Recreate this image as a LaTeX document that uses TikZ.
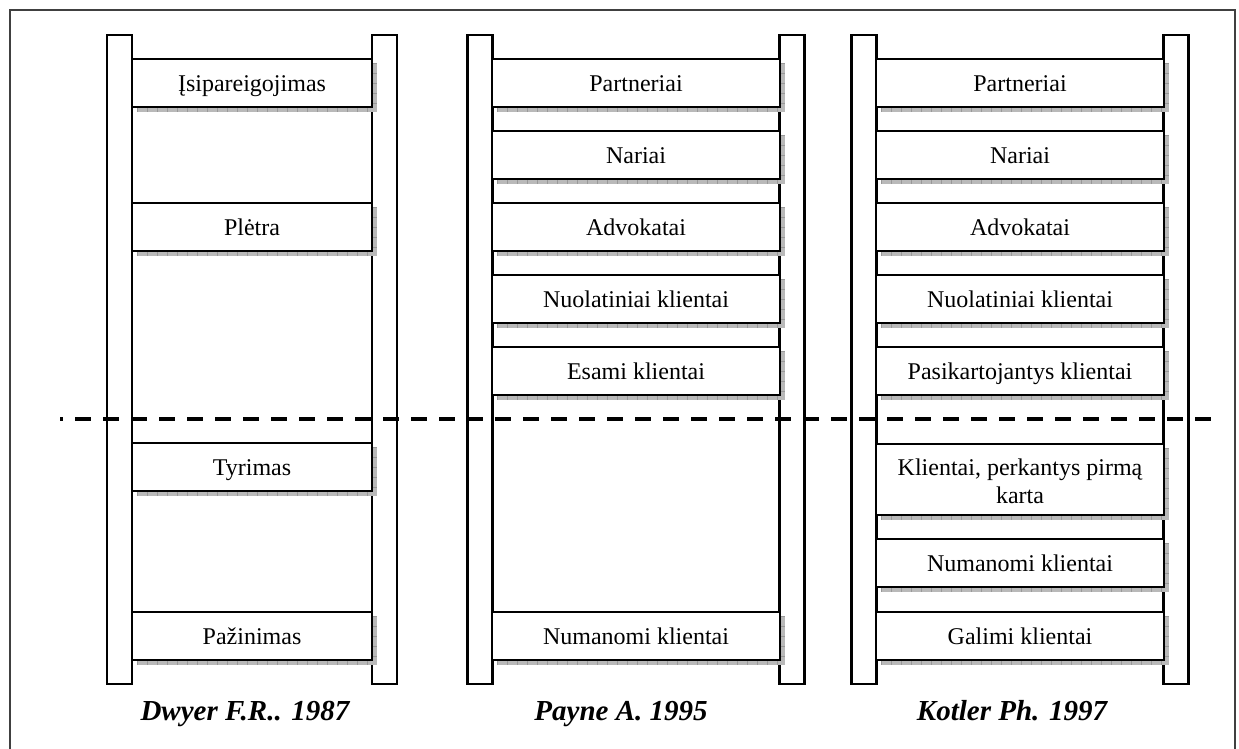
\documentclass[tikz,border=0pt]{standalone}
\usepackage{fontspec}
\setmainfont{Liberation Serif}
\pgfdeclarelayer{railslayer}
\pgfdeclarelayer{shadelayer}
\pgfsetlayers{railslayer,shadelayer,main}
\begin{document}
\begin{tikzpicture}[x=1pt,y=-1pt,
  rail/.style={draw, line width=2.3pt, fill=white, minimum width=25pt,
    minimum height=649pt, inner sep=0pt, outer sep=0pt},
  rung/.style={draw, line width=2.3pt, fill=white, minimum height=48pt,
    inner sep=0pt, outer sep=0pt, font=\fontsize{24}{28}\selectfont,
    text height=17pt, text depth=0pt},
  narrow/.style={rung, minimum width=240pt},
  wide/.style={rung, minimum width=288pt},
  shadefill/.style={fill=gray!55},
  shadetick/.style={draw=gray!80, line width=5pt, dash pattern=on 0.8pt off 9.2pt},
  cutline/.style={line width=3.5pt, dash pattern=on 16pt off 12pt, dash phase=13pt},
  title/.style={anchor=base, inner sep=0pt, font=\fontsize{29}{34}\selectfont\bfseries\itshape},
  frameline/.style={draw=black!75, line width=2pt}]
\useasboundingbox (0,0) rectangle (1239,749);
\draw[frameline] (10,749) -- (10,10) -- (1235,10) -- (1235,749);

% ladder rails
\begin{pgfonlayer}{railslayer}
  \node[rail] (r1l) at (119.5,359.5) {};
  \node[rail] (r1r) at (384.5,359.5) {};
  \node[rail] (r2l) at (480,359.5) {};
  \node[rail] (r2r) at (792,359.5) {};
  \node[rail] (r3l) at (864,359.5) {};
  \node[rail] (r3r) at (1176,359.5) {};
\end{pgfonlayer}

% Dwyer ladder
\node[narrow] (a1) at (252,83)  {Įsipareigojimas};
\node[narrow] (a2) at (252,227) {Plėtra};
\node[narrow] (a3) at (252,467) {Tyrimas};
\node[narrow] (a4) at (252,636) {Pažinimas};

% Payne ladder
\node[wide] (b1) at (636,83)  {Partneriai};
\node[wide] (b2) at (636,155) {Nariai};
\node[wide] (b3) at (636,227) {Advokatai};
\node[wide] (b4) at (636,299) {Nuolatiniai klientai};
\node[wide] (b5) at (636,371) {Esami klientai};
\node[wide] (b6) at (636,636) {Numanomi klientai};

% Kotler ladder
\node[wide] (c1) at (1020,83)  {Partneriai};
\node[wide] (c2) at (1020,155) {Nariai};
\node[wide] (c3) at (1020,227) {Advokatai};
\node[wide] (c4) at (1020,299) {Nuolatiniai klientai};
\node[wide] (c5) at (1020,371) {Pasikartojantys klientai};
\node[wide, minimum height=71pt, text height=47pt, text depth=0pt, align=center] (c6) at (1020,479.5)
  {Klientai, perkantys pirmą\\karta};
\node[wide] (c7) at (1020,563) {Numanomi klientai};
\node[wide] (c8) at (1020,636) {Galimi klientai};

% rung shadows
\begin{pgfonlayer}{shadelayer}
  \foreach \n in {a1,a2,a3,a4,b1,b2,b3,b4,b5,b6,c1,c2,c3,c4,c5,c6,c7,c8}{
    \fill[shadefill] ([shift={(5,0)}]\n.south west) rectangle ([shift={(5,5)}]\n.south east);
    \fill[shadefill] ([shift={(0,4)}]\n.north east) rectangle ([shift={(5,5)}]\n.south east);
    \draw[shadetick] ([shift={(5,2.5)}]\n.south west) -- ([shift={(0,2.5)}]\n.south east);
    \draw[shadetick] ([shift={(2.5,4)}]\n.north east) -- ([shift={(2.5,0)}]\n.south east);
  }
\end{pgfonlayer}

% boundary line
\coordinate (cutL) at (60,419);
\coordinate (cutR) at (1212,419);
\draw[cutline] (cutL) -- (cutR);

% authors
\node[title] (t1) at (245,720) {Dwyer F.R.. 1987};
\node[title] (t2) at (621,720) {Payne A. 1995};
\node[title] (t3) at (1012,720) {Kotler Ph. 1997};
\end{tikzpicture}
\end{document}
